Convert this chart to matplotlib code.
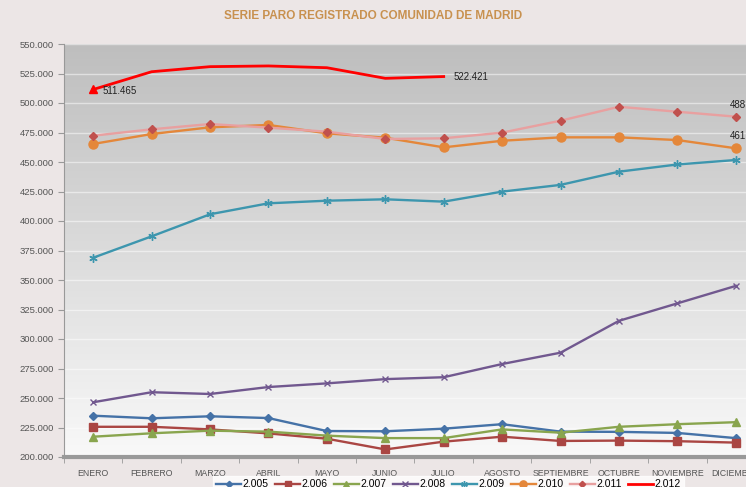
import numpy as np
import matplotlib
matplotlib.use("Agg")
from matplotlib import pyplot as plt
from matplotlib.ticker import FuncFormatter

# datos (paro registrado, personas)
meses = ['ENERO', 'FEBRERO', 'MARZO', 'ABRIL', 'MAYO', 'JUNIO', 'JULIO',
         'AGOSTO', 'SEPTIEMBRE', 'OCTUBRE', 'NOVIEMBRE', 'DICIEMBRE']

s2005 = [235000, 232800, 234500, 233000, 222000, 221800, 224000, 227800, 221500, 221300, 220400, 216000]
s2006 = [225600, 225600, 223400, 220000, 215500, 206400, 213000, 217200, 213600, 213900, 213400, 212200]
s2007 = [217200, 220100, 222300, 221500, 218100, 216000, 216000, 223400, 220600, 225600, 227800, 229500]
s2008 = [246400, 254900, 253400, 259300, 262400, 266000, 267600, 278800, 288400, 315400, 330200, 345000]
s2009 = [368900, 387000, 405700, 415000, 417200, 418400, 416400, 424900, 430600, 441800, 447900, 451700]
s2010 = [465300, 473700, 479400, 481400, 474300, 470600, 462400, 468000, 470900, 470900, 468600, 461620]
s2011 = [472300, 477700, 482200, 479100, 475700, 469500, 470100, 474900, 485000, 496800, 492600, 488411]
s2012 = [511465, 526500, 530800, 531400, 529900, 520900, 522421]

plt.rcParams['font.family'] = ['Liberation Sans', 'DejaVu Sans']

fig = plt.figure(figsize=(7.46, 4.87), dpi=100)
fig.patch.set_facecolor('#ECE6E6')
ax = fig.add_axes([64/746, 1-457/487, 701/746, 413/487])

x = np.arange(len(meses))

# fondo degradado (gris arriba, casi blanco abajo)
grad = np.linspace(0, 1, 256).reshape(-1, 1)
top = np.array([0.745, 0.745, 0.745])
bot = np.array([0.975, 0.975, 0.975])
img = top + (bot - top) * grad
ax.imshow(img.reshape(256, 1, 3), extent=[-0.5, 11.5, 200000, 550000],
          aspect='auto', zorder=0)

for v in range(200000, 550001, 25000):
    ax.axhline(v, color='white', lw=1, alpha=0.5, zorder=1)

series = [
    ('2.005', s2005, '#4572A7', '#4572A7', 'D', 4),
    ('2.006', s2006, '#AA4643', '#AA4643', 's', 6),
    ('2.007', s2007, '#89A54E', '#89A54E', '^', 6),
    ('2.008', s2008, '#71588F', '#71588F', 'x', 5),
    ('2.009', s2009, '#3D96AE', '#3D96AE', (6, 2, 0), 6),
    ('2.010', s2010, '#E4873A', '#E4873A', 'o', 6.5),
    ('2.011', s2011, '#E8A0A0', '#C0504D', 'D', 4),
]
for lab, vals, col, mcol, mk, ms in series:
    ax.plot(x[:len(vals)], vals, color=col, lw=1.7, marker=mk, ms=ms,
            mfc=mcol, mec=mcol, mew=1, label=lab, zorder=3)

ax.plot(x[:len(s2012)], s2012, color='#FF0000', lw=2, label='2.012', zorder=4)
# triangulo solo en el primer punto de 2012
ax.plot(x[:1], s2012[:1], color='#FF0000', marker='^', ms=6, ls='none', zorder=4)

def miles(v):
    return '{:,.0f}'.format(v).replace(',', '.')

ax.annotate(miles(s2012[0]), (0, s2012[0]), xytext=(7, -1), textcoords='offset points',
            fontsize=7, color='#222222', va='center', zorder=5)
ax.annotate(miles(s2012[-1]), (6, s2012[-1]), xytext=(7, 0), textcoords='offset points',
            fontsize=7, color='#222222', va='center', zorder=5)
ax.annotate(miles(s2011[-1]), (11, s2011[-1]), xytext=(-4, 5), textcoords='offset points',
            fontsize=7, color='#222222', va='bottom', zorder=5, annotation_clip=False)
ax.annotate(miles(s2010[-1]), (11, s2010[-1]), xytext=(-4, 5), textcoords='offset points',
            fontsize=7, color='#222222', va='bottom', zorder=5, annotation_clip=False)

ax.set_xlim(-0.5, 11.5)
ax.set_ylim(200000, 550000)
ax.set_yticks(range(200000, 550001, 25000))
ax.yaxis.set_major_formatter(FuncFormatter(lambda v, p: miles(v)))
ax.set_xticks(x)
ax.set_xticklabels(meses)
ax.set_xticks(np.arange(-0.5, 12, 1), minor=True)
ax.tick_params(axis='x', which='major', length=0, pad=9, labelsize=6.3, labelcolor='#555555')
ax.tick_params(axis='x', which='minor', length=4, color='#999999', direction='out')
ax.tick_params(axis='y', length=4, color='#999999', labelsize=6.8, labelcolor='#555555')

for s in ['top', 'right']:
    ax.spines[s].set_visible(False)
ax.spines['left'].set_color('#999999')
ax.spines['bottom'].set_color('#999999')
ax.spines['bottom'].set_linewidth(3)

fig.text(0.5, 1 - 16/487, 'SERIE PARO REGISTRADO COMUNIDAD DE MADRID', ha='center', va='center',
         fontsize=8.5, fontweight='bold', color='#C8914F')

leg = fig.legend(loc='lower left', bbox_to_anchor=(208/746, -0.022), ncol=8, frameon=True,
                 fontsize=7.5, handlelength=2.4, handletextpad=0.15, columnspacing=0.6,
                 borderpad=0.3, fancybox=False, markerscale=0.8)
leg.get_frame().set_facecolor('white')
leg.get_frame().set_edgecolor('white')

fig.savefig('out.png', dpi=100, facecolor=fig.get_facecolor())
